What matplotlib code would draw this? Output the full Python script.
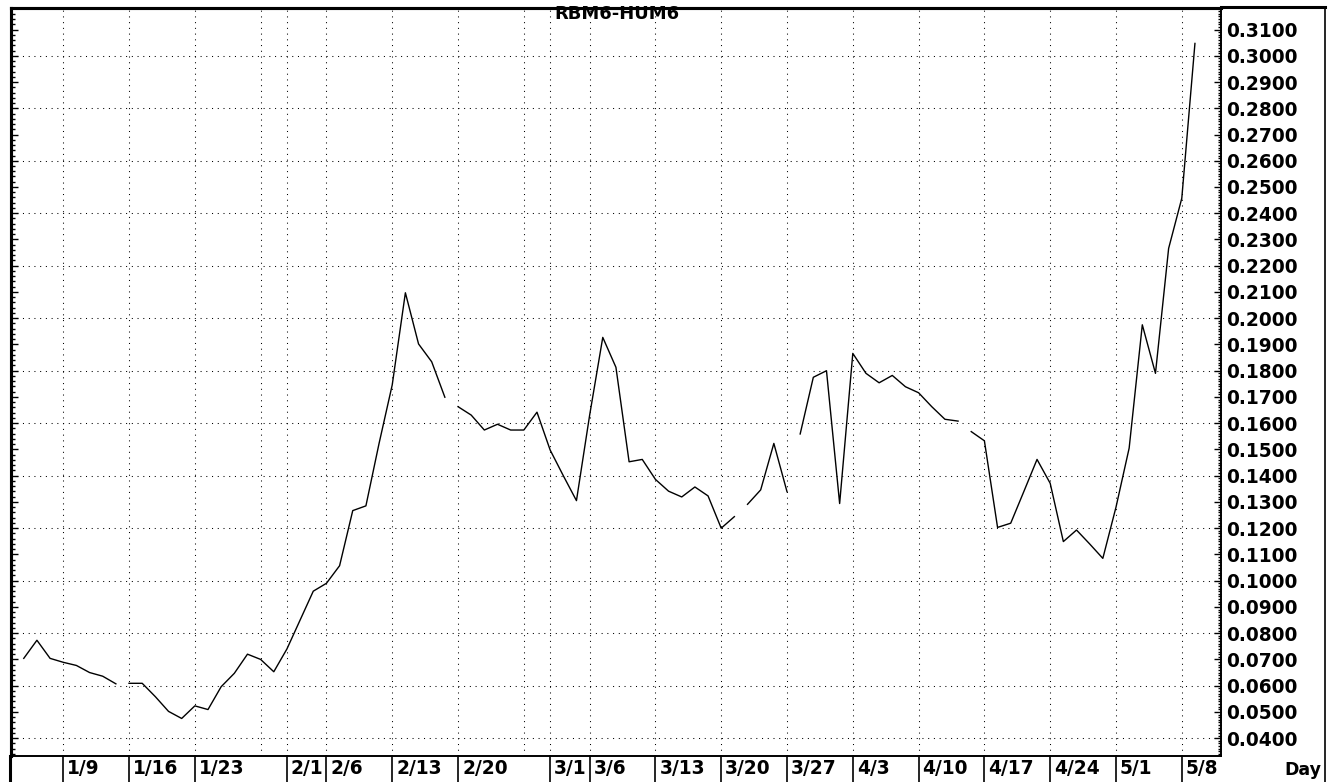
import numpy as np
import matplotlib
matplotlib.use("agg")
import matplotlib.pyplot as plt
from matplotlib.lines import Line2D
from matplotlib.ticker import FormatStrFormatter
from matplotlib.transforms import blended_transform_factory, offset_copy

# RBM6-HUM6 daily spread, one value per business day from 2006-01-04
start_date = '2006-01-04'
spread = [0.0704, 0.0773, 0.0704, 0.0689, 0.0677, 0.0650, 0.0636, 0.0607,
          0.0609, 0.0609, 0.0558, 0.0502, 0.0475, 0.0523, 0.0509, 0.0596,
          0.0647, 0.0720, 0.0700, 0.0653, 0.0740, 0.0850, 0.0960, 0.0990,
          0.1057, 0.1267, 0.1285, 0.1523, 0.1746, 0.2097, 0.1902, 0.1834,
          0.1699, 0.1663, 0.1631, 0.1574, 0.1596, 0.1574, 0.1574, 0.1642,
          0.1498, 0.1400, 0.1305, 0.1630, 0.1927, 0.1813, 0.1453, 0.1462,
          0.1386, 0.1341, 0.1319, 0.1357, 0.1323, 0.1200, 0.1244, 0.1291,
          0.1346, 0.1523, 0.1339, 0.1559, 0.1775, 0.1800, 0.1294, 0.1866,
          0.1790, 0.1754, 0.1782, 0.1739, 0.1716, 0.1663, 0.1615, 0.1608,
          0.1568, 0.1533, 0.1203, 0.1219, 0.1340, 0.1462, 0.1371, 0.1149,
          0.1193, 0.1140, 0.1085, 0.1280, 0.1505, 0.1975, 0.1790, 0.2266,
          0.2457, 0.3047]
# the line is not joined into these days
break_dates = ['2006-01-16', '2006-02-20', '2006-03-22', '2006-03-28', '2006-04-14']

grid_dates = ['2006-01-09', '2006-01-16', '2006-01-23', '2006-01-30', '2006-02-01',
              '2006-02-06', '2006-02-13', '2006-02-20', '2006-02-27', '2006-03-01',
              '2006-03-06', '2006-03-13', '2006-03-20', '2006-03-27', '2006-04-03',
              '2006-04-10', '2006-04-17', '2006-04-24', '2006-05-01', '2006-05-08']
grid_labels = ['1/9', '1/16', '1/23', '', '2/1', '2/6', '2/13', '2/20', '', '3/1',
               '3/6', '3/13', '3/20', '3/27', '4/3', '4/10', '4/17', '4/24', '5/1', '5/8']

ref = '2006-01-09'
day0 = int(np.busday_count(ref, start_date))
x = (day0 + np.arange(len(spread))).astype(float)
y = np.array(spread, dtype=float)
for d in sorted(break_dates, reverse=True):
    k = int(np.busday_count(start_date, d))
    x = np.insert(x, k, np.nan)
    y = np.insert(y, k, np.nan)

grid_x = np.array([np.busday_count(ref, d) for d in grid_dates], dtype=float)

W, H = 1328, 782
fig = plt.figure(figsize=(W / 100, H / 100), dpi=100)
ax = fig.add_axes([11 / W, 26 / H, (1221 - 11) / W, (756 - 8) / H])

ax.plot(x, y, color='black', lw=1.0)

ylim = (0.0332, 0.3182)
ax.set_xlim(-3.97, 87.98)
ax.set_ylim(*ylim)

ax.set_xticks(grid_x)
ax.set_xticklabels([])
ax.tick_params(axis='x', length=0)

# left side: plain ruler ticks
ax.set_yticks(np.arange(0.04, 0.3101, 0.01))
ax.set_yticks(np.arange(0.034, 0.318, 0.002), minor=True)
ax.tick_params(axis='y', which='both', direction='in', left=True, right=False,
               labelleft=False, color='black', width=1)
ax.tick_params(axis='y', which='major', length=5)
ax.tick_params(axis='y', which='minor', length=3)

# right side: price scale
ax2 = ax.twinx()
ax2.set_ylim(*ylim)
ax2.set_yticks(np.arange(0.04, 0.3101, 0.01))
ax2.set_yticks(np.arange(0.034, 0.318, 0.001), minor=True)
ax2.yaxis.set_major_formatter(FormatStrFormatter('%.4f'))
ax2.tick_params(axis='y', which='both', direction='in', color='black', width=1)
ax2.tick_params(axis='y', which='major', length=5, pad=4)
ax2.tick_params(axis='y', which='minor', length=2.5)
for t in ax2.get_yticklabels():
    t.set_fontweight('bold')
    t.set_fontsize(13.4)
    t.set_fontfamily('DejaVu Sans')

# dotted grid: every 0.02 horizontally, every week / month start vertically
for gy in np.arange(0.04, 0.3001, 0.02):
    ax.axhline(gy, color='black', lw=0.75, ls=(0, (1, 4.5)), zorder=0)
for gx in grid_x:
    ax.axvline(gx, color='black', lw=0.75, ls=(0, (1, 4.5)), zorder=0)

for a in (ax, ax2):
    for side in ['left', 'right', 'top', 'bottom']:
        a.spines[side].set_color('black')
    a.spines['left'].set_linewidth(2.2)
    a.spines['right'].set_linewidth(1.2)
    a.spines['top'].set_linewidth(2.2)
    a.spines['bottom'].set_linewidth(1.2)

# date labels below the plot, each with a separator line on its left
trans = blended_transform_factory(ax.transData, ax.transAxes)
lab_trans = offset_copy(trans, fig=fig, x=4, y=-13, units='dots')
for gx, lab in zip(grid_x, grid_labels):
    if not lab:
        continue
    ax.add_line(Line2D([gx, gx], [0, -0.04], transform=trans, color='black',
                       lw=1.2, clip_on=False))
    ax.text(gx, 0, lab, transform=lab_trans, ha='left', va='center',
            fontsize=13.4, fontweight='bold', family='DejaVu Sans')

fig.text(1284 / W, 1 - 770 / H, 'Day', ha='left', va='center',
         fontsize=12.5, fontweight='bold', family='DejaVu Sans')
fig.text(617 / W, 1 - 14 / H, 'RBM6-HUM6', ha='center', va='center',
         fontsize=13, fontweight='bold', family='DejaVu Sans')

# outer frame
fig.add_artist(Line2D([1325 / W, 1325 / W], [0, 1 - 7 / H], color='black', lw=1.2))
fig.add_artist(Line2D([1221 / W, 1325 / W], [1 - 7 / H, 1 - 7 / H], color='black', lw=2.2))
fig.add_artist(Line2D([10 / W, 10 / W], [0, 26 / H], color='black', lw=2.2))

fig.savefig('out.png', dpi=100)
